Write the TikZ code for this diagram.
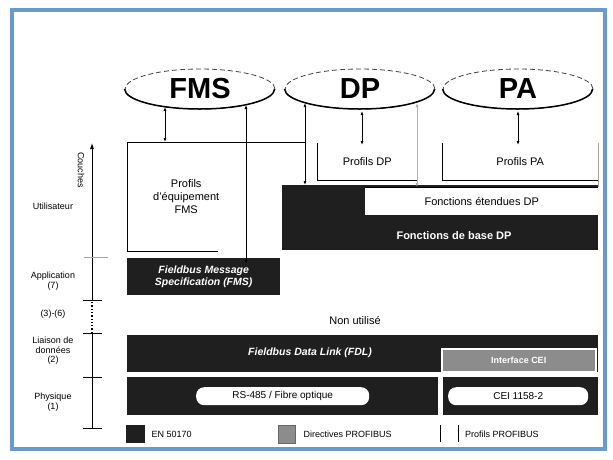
\documentclass[tikz,border=0pt]{standalone}
\usepackage{fontspec}
\setmainfont{Liberation Sans}
\usepackage{xcolor}
\usetikzlibrary{arrows.meta,positioning,shapes.geometric}
\definecolor{framebl}{RGB}{108,153,204}

\begin{document}
\begin{tikzpicture}[
    x=1pt, y=-1pt,
    node distance=6pt and 6pt,
    proto/.style={ellipse, draw=black!75, dash pattern=on 5pt off 3pt, line width=0.8pt, minimum width=150pt, minimum height=40pt, inner sep=0pt, font=\fontsize{29}{29}\selectfont\bfseries},
    dark/.style={fill=black!88, anchor=north west, inner sep=0pt, text=white, align=center},
    guidebox/.style={fill=black!45, draw=white, line width=1.5pt, anchor=north west, inner sep=0pt, text=white, font=\fontsize{9}{10}\selectfont\bfseries},
    medium/.style={fill=white, rounded corners=8pt, anchor=north west, inner sep=0pt, font=\fontsize{10}{11}\selectfont},
    txt/.style={align=center, inner sep=0pt, font=\fontsize{11}{13}\selectfont},
    wtxt/.style={align=center, text=white, font=\fontsize{10.5}{12}\selectfont\bfseries\itshape},
    btxt/.style={align=center, text=white, font=\fontsize{11}{12}\selectfont\bfseries},
    layer/.style={align=center, font=\fontsize{9}{9.5}\selectfont},
    legtxt/.style={font=\fontsize{9}{10}\selectfont, inner sep=0pt},
    arrow/.style={{Latex[length=4pt,width=3pt]}-{Latex[length=4pt,width=3pt]}, line width=0.8pt},
    rule/.style={line width=0.8pt},
    faint/.style={draw=black!35, line width=0.6pt}
  ]
    \useasboundingbox (0,0) rectangle (613,459);
    \draw[framebl, line width=4pt] (12,10) rectangle (605,449);

    \node[proto] (fms) at (200,89) {FMS};
    \node[proto] (dp) at (360,89) {DP};
    \node[proto] (pa) at (518,89) {PA};
    \foreach \p in {fms,dp,pa}
      \draw[line width=1.5pt] (\p.west) arc[start angle=180, end angle=360, x radius=75pt, y radius=20pt];

    \node[txt, anchor=north west, minimum width=118pt, minimum height=109pt] (fmsprof) at (127,142) {Profils\\d'équipement\\FMS};
    \node[txt, anchor=north west, minimum width=100pt, minimum height=37pt] (dpprof) at (317,143) {Profils DP};
    \node[txt, anchor=north west, minimum width=156pt, minimum height=37pt] (paprof) at (442,143) {Profils PA};

    \node[dark, minimum width=316pt, minimum height=65pt] (base) at (282,185) {};
    \node[btxt] (basetxt) at (454,236) {Fonctions de base DP};
    \node[txt, fill=white, anchor=north west, minimum width=233pt, minimum height=28pt] (ext) at (365,187) {Fonctions étendues DP};
    \draw[rule] (ext.north west) -- (ext.north east);

    \node[dark, wtxt, minimum width=153pt, minimum height=37pt] (fmsspec) at (127,258) {Fieldbus Message\\Specification (FMS)};
    \node[txt] (unused) at (355,320) {Non utilisé};

    \node[dark, minimum width=471pt, minimum height=37pt] (fdl) at (127,335) {};
    \node[wtxt] (fdltxt) at (310,353) {Fieldbus Data Link (FDL)};
    \node[guidebox, minimum width=154pt, minimum height=23pt] (iface) at (441,348) {Interface CEI};

    \node[dark, minimum width=311pt, minimum height=38pt] (phyrs) at (127,377) {};
    \node[dark, minimum width=155pt, minimum height=38pt] (phycei) at (443,377) {};
    \node[medium, minimum width=173pt, minimum height=18pt] (rs) at (196,387) {RS-485 / Fibre optique};
    \node[medium, minimum width=140pt, minimum height=18pt] (cei) at (448,387) {CEI 1158-2};

    \coordinate (fmsa) at (165,107);
    \coordinate (fmsb) at (246,105);
    \coordinate (dpa) at (305,103);
    \coordinate (dpb) at (362,111);
    \coordinate (dpc) at (417,103);
    \coordinate (paa) at (518,111);
    \draw[rule] (fmsprof.north west) -- (fmsprof.south west) -- ([xshift=-27pt]fmsprof.south east);
    \draw[rule] (fmsprof.north west) -- (fmsprof.north west -| dpa);
    \draw[rule] (dpprof.north west) -- (dpprof.south west) -- (dpprof.south east);
    \draw[rule] (paprof.north west) -- (paprof.south west) -- (paprof.south east);
    \draw[faint] (paprof.north east) -- (ext.north east);
    \draw[arrow] (fmsa) -- (fmsa |- fmsprof.north);
    \draw[arrow] (fmsb) -- ([yshift=-6pt]fmsb |- fmsspec.north);
    \draw[arrow] (dpa) -- (dpa |- base.north);
    \draw[arrow] (dpb) -- ([yshift=-2pt]dpb |- dpprof.north);
    \draw[arrow, draw=black!30] (dpc) -- (dpc |- ext.north);
    \draw[arrow] (paa) -- ([yshift=-2pt]paa |- paprof.north);

    \coordinate (axtop) at (92,143);
    \coordinate (ax7) at (92,300);
    \coordinate (ax3) at (92,333);
    \coordinate (ax2) at (92,377);
    \coordinate (axbot) at (92,428);
    \draw[rule, -{Latex[length=6pt,width=4pt]}] (ax7) -- (axtop);
    \draw[line width=1.3pt, dotted] (ax3) -- (ax7);
    \draw[rule] (axbot) -- (ax3);
    \foreach \t in {ax7,ax3,ax2,axbot}
      \draw[rule] ([xshift=-9pt]\t) -- ([xshift=10pt]\t);
    \draw[faint] (84,257) -- (108,257);

    \node[layer, rotate=-90] (lcouches) at (81,170) {Couches};
    \node[layer] (lutil) at (53,206) {Utilisateur};
    \node[layer] (lappl) at (53,281) {Application\\(7)};
    \node[layer] (lmid) at (53,314) {(3)-(6)};
    \node[layer] (llink) at (53,351) {Liaison de\\données\\(2)};
    \node[layer] (lphys) at (53,402) {Physique\\(1)};

    \node[fill=black!88, anchor=north west, minimum width=19pt, minimum height=18pt, inner sep=0pt] (legen) at (126,425) {};
    \node[legtxt, right=of legen] (legentxt) {EN 50170};
    \node[fill=black!45, draw=black!60, anchor=north west, minimum width=17pt, minimum height=18pt, inner sep=0pt] (legdir) at (278,425) {};
    \node[legtxt, right=8pt of legdir] (legdirtxt) {Directives PROFIBUS};
    \coordinate (legbar) at (440,425);
    \coordinate (legprof) at (458,425);
    \draw[rule] (legbar) -- ++(0,17);
    \draw[rule] (legprof) -- ++(0,17);
    \node[legtxt, anchor=west] (legproftxt) at (465,434) {Profils PROFIBUS};
  \end{tikzpicture}
\end{document}
